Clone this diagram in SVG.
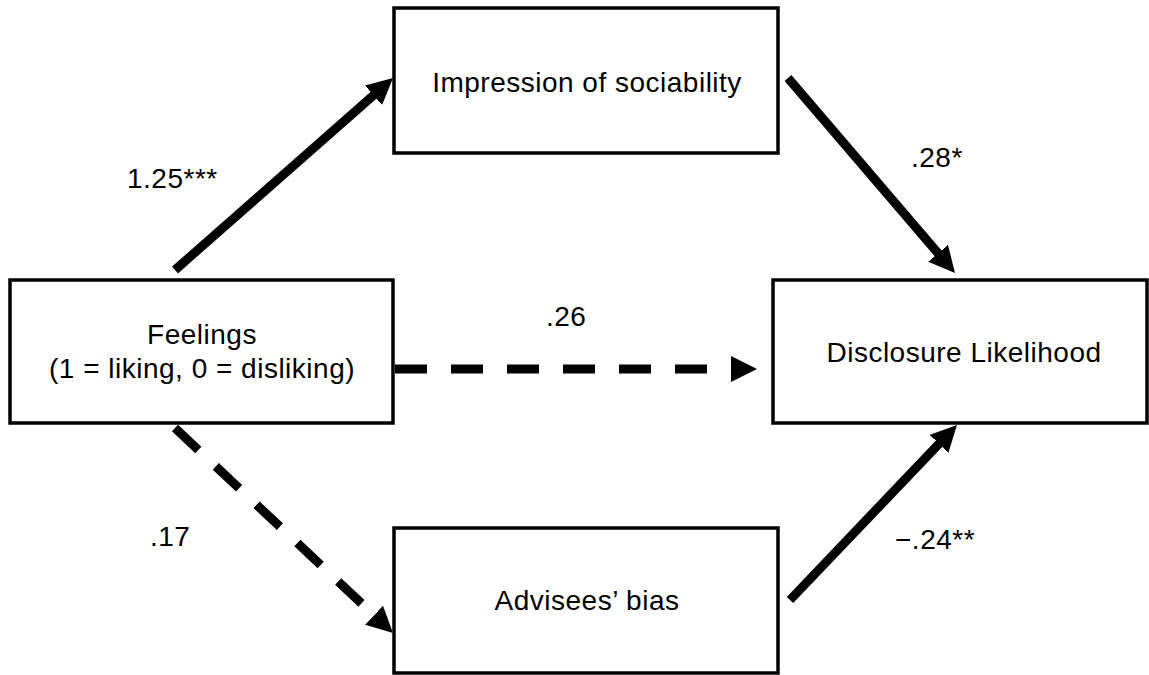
<svg xmlns="http://www.w3.org/2000/svg" width="1149" height="675" viewBox="0 0 1149 675">
<style>
.box{fill:#fff;stroke:#000;stroke-width:3.5}
.t{font-family:"Liberation Sans",Arial,sans-serif;font-size:28px;letter-spacing:0.5px;fill:#000}
.c{text-anchor:middle}
.ln{fill:none;stroke:#000;stroke-width:9}
.dash{stroke-dasharray:32 24}
</style>
<defs>
<marker id="ah" viewBox="0 0 26 26" markerUnits="userSpaceOnUse" markerWidth="26" markerHeight="26" refX="12" refY="13" orient="auto">
<path d="M0,0 L26,13 L0,26 z" fill="#000"/>
</marker>
</defs>
<rect width="1149" height="675" fill="#fff"/>
<g id="connectors">
<line class="ln" x1="175" y1="270" x2="382.5" y2="87.3" marker-end="url(#ah)"/>
<line class="ln" x1="788" y1="78" x2="945.9" y2="262.4" marker-end="url(#ah)"/>
<line class="ln dash" x1="395" y1="369" x2="743" y2="369" marker-end="url(#ah)"/>
<line class="ln dash" x1="175" y1="428" x2="382.8" y2="623.4" marker-end="url(#ah)"/>
<line class="ln" x1="790" y1="600" x2="947.3" y2="435.1" marker-end="url(#ah)"/>
<text class="t" x="127" y="188">1.25***</text>
<text class="t" x="911" y="167">.28*</text>
<text class="t" x="546" y="326">.26</text>
<text class="t" x="150" y="546">.17</text>
<text class="t" x="895" y="549">−.24**</text>
</g>
<g id="node-feelings">
<rect class="box" x="10" y="280" width="383" height="143"/>
<text class="t c" x="202" y="344">Feelings</text>
<text class="t c" x="202" y="378">(1 = liking, 0 = disliking)</text>
</g>
<g id="node-impression">
<rect class="box" x="394" y="8" width="384" height="145"/>
<text class="t c" x="587" y="92">Impression of sociability</text>
</g>
<g id="node-advisees">
<rect class="box" x="394" y="528" width="384" height="145"/>
<text class="t c" x="587" y="610">Advisees’ bias</text>
</g>
<g id="node-disclosure">
<rect class="box" x="773" y="280" width="374" height="143"/>
<text class="t c" x="964" y="362">Disclosure Likelihood</text>
</g>
</svg>
